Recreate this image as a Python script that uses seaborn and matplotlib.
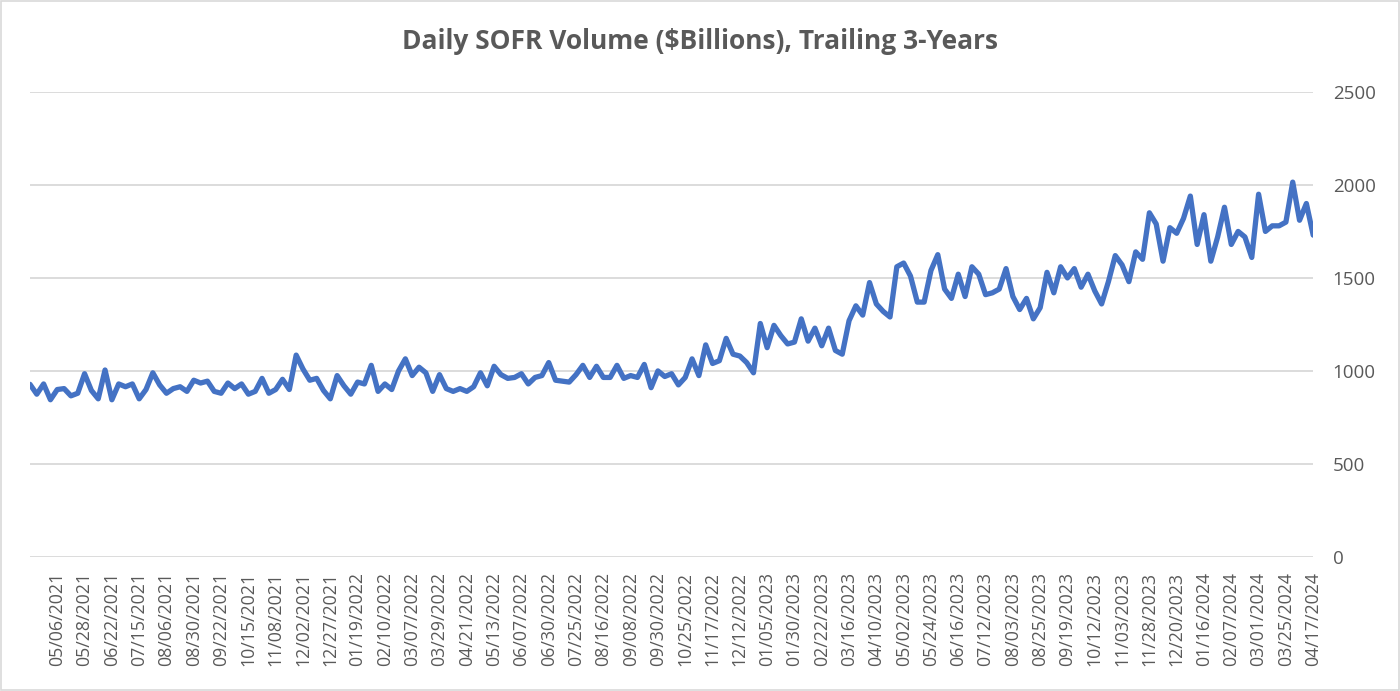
import numpy as np
import pandas as pd
import matplotlib
matplotlib.use('Agg')
import matplotlib.pyplot as plt
import seaborn as sns

# ── Dados (~1 valor a cada 4 dias úteis) ────────────────────────────────────
volume = [
    928, 875, 930, 845, 900, 905, 866, 880, 985, 895,
    850, 1005, 845, 930, 915, 930, 850, 900, 990, 925,
    880, 905, 915, 890, 950, 935, 945, 890, 880, 935,
    905, 930, 875, 890, 960, 880, 900, 955, 900, 1085,
    1010, 950, 960, 895, 850, 975, 920, 875, 940, 930,
    1030, 890, 930, 900, 1000, 1065, 975, 1020, 990, 890,
    980, 905, 890, 905, 890, 915, 990, 920, 1025, 980,
    960, 965, 985, 930, 965, 975, 1045, 950, 945, 940,
    980, 1030, 965, 1025, 965, 965, 1030, 960, 975, 965,
    1035, 910, 1000, 970, 985, 925, 965, 1065, 975, 1140,
    1040, 1055, 1175, 1090, 1080, 1045, 990, 1255, 1125, 1245,
    1190, 1145, 1155, 1280, 1160, 1230, 1135, 1230, 1110, 1090,
    1270, 1350, 1300, 1475, 1360, 1320, 1290, 1560, 1580, 1510,
    1370, 1370, 1540, 1625, 1440, 1390, 1520, 1400, 1560, 1520,
    1410, 1420, 1440, 1550, 1400, 1330, 1390, 1280, 1340, 1530,
    1420, 1560, 1500, 1550, 1450, 1520, 1430, 1360, 1480, 1620,
    1570, 1480, 1640, 1600, 1850, 1790, 1590, 1770, 1740, 1820,
    1940, 1680, 1840, 1590, 1720, 1880, 1680, 1750, 1720, 1610,
    1950, 1750, 1780, 1780, 1800, 2015, 1810, 1900, 1730,
]

tick_labels = [
    '05/06/2021', '05/28/2021', '06/22/2021', '07/15/2021', '08/06/2021',
    '08/30/2021', '09/22/2021', '10/15/2021', '11/08/2021', '12/02/2021',
    '12/27/2021', '01/19/2022', '02/10/2022', '03/07/2022', '03/29/2022',
    '04/21/2022', '05/13/2022', '06/07/2022', '06/30/2022', '07/25/2022',
    '08/16/2022', '09/08/2022', '09/30/2022', '10/25/2022', '11/17/2022',
    '12/12/2022', '01/05/2023', '01/30/2023', '02/22/2023', '03/16/2023',
    '04/10/2023', '05/02/2023', '05/24/2023', '06/16/2023', '07/12/2023',
    '08/03/2023', '08/25/2023', '09/19/2023', '10/12/2023', '11/03/2023',
    '11/28/2023', '12/20/2023', '01/16/2024', '02/07/2024', '03/01/2024',
    '03/25/2024', '04/17/2024',
]

y_ticks = [0, 500, 1000, 1500, 2000, 2500]

TITULO = 'Daily SOFR Volume ($Billions), Trailing 3-Years'
AZUL   = '#4472C4'
CINZA  = '#595959'
GRELHA = '#D9D9D9'

df = pd.DataFrame({'pos': np.arange(len(volume)), 'volume': volume})

# ── Estilo ────────────────────────────────────────────────────────────────────
sns.set_theme(style='white')
plt.rcParams['font.family'] = ['Open Sans', 'DejaVu Sans']

fig = plt.figure(figsize=(14, 6.91), dpi=100)
ax = fig.add_axes([0.0214, 0.194, 0.9166, 0.673])

# ── Gráfico ───────────────────────────────────────────────────────────────────
sns.lineplot(data=df, x='pos', y='volume', ax=ax, color=AZUL, linewidth=3.8)

ax.set_xlim(0, len(volume) - 1)
ax.set_ylim(0, 2500)
ax.set_yticks(y_ticks)
ax.yaxis.tick_right()
ax.grid(axis='y', color=GRELHA, linewidth=1.3)
ax.set_axisbelow(True)
ax.tick_params(axis='y', length=0, pad=14, labelsize=13.5, labelcolor=CINZA)

tick_pos = np.arange(4, len(volume), 4)
ax.set_xticks(tick_pos)
ax.set_xticklabels(tick_labels, rotation=90)
ax.tick_params(axis='x', length=0, pad=11, labelsize=12.8, labelcolor=CINZA)

ax.set_xlabel('')
ax.set_ylabel('')
for s in ax.spines.values():
    s.set_visible(False)

fig.text(0.5, 0.940, TITULO, ha='center', va='center', fontsize=19,
         fontweight='bold', color=CINZA)

# borda da área do gráfico (estilo Excel)
fig.patches.append(plt.Rectangle((0.001, 0.001), 0.998, 0.998, transform=fig.transFigure,
                                 fill=False, edgecolor=GRELHA, linewidth=1.2))

plt.savefig('out.png', dpi=100)
plt.close()
